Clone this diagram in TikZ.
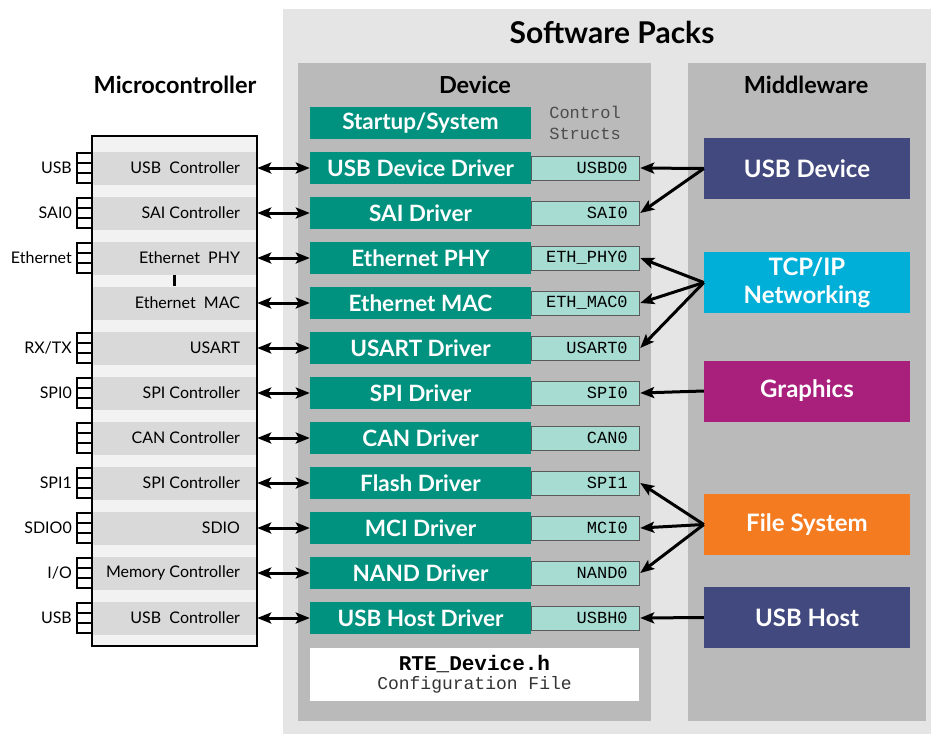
\documentclass[tikz,border=0pt]{standalone}
\usepackage{fontspec}
\setmainfont{Lato}
\setmonofont{Liberation Mono}
\usetikzlibrary{arrows.meta,positioning}

\definecolor{packgray}{HTML}{E5E5E5}
\definecolor{panelgray}{HTML}{BABABA}
\definecolor{chipfill}{HTML}{F2F2F2}
\definecolor{rowgray}{HTML}{D9D9D9}
\definecolor{drvteal}{HTML}{00917F}
\definecolor{csfill}{HTML}{A6DCD2}
\definecolor{csline}{HTML}{5A5A5A}
\definecolor{usbblue}{HTML}{41497E}
\definecolor{tcpcyan}{HTML}{00AFD8}
\definecolor{gfxpurple}{HTML}{A8207C}
\definecolor{fsorange}{HTML}{F47B20}

\newcommand{\rl}[1]{\makebox[131pt][r]{#1}}
\newcommand{\cl}[1]{\makebox[84pt][r]{#1}}

\begin{document}
\begin{tikzpicture}[x=1pt,y=-1pt,>={Stealth[length=14pt,width=11pt,inset=3pt]},
    every edge/.style={draw,line width=3pt},
    row/.style={fill=rowgray,minimum width=165pt,minimum height=33pt,inner sep=0pt,font=\fontsize{16}{18}\selectfont},
    drv/.style={fill=drvteal,text=white,minimum width=221pt,minimum height=32pt,inner sep=0pt,font=\fontsize{22.5}{24}\bfseries},
    cs/.style={fill=csfill,draw=csline,line width=1pt,minimum width=108pt,minimum height=24pt,inner sep=0pt,font=\fontsize{17}{18}\ttfamily},
    mw/.style={text=white,minimum width=206pt,minimum height=61pt,inner sep=0pt,align=center,font=\fontsize{24}{28}\bfseries},
    title/.style={font=\fontsize{23.5}{26}\bfseries},
    pin/.style={font=\fontsize{16}{18}\selectfont,anchor=east,inner sep=0pt}]

    \useasboundingbox (0,0) rectangle (931,734);
    \fill[white] (0,0) rectangle (931,734);

    % software packs background
    \fill[packgray] (283,9) rectangle (931,734);
    \fill[panelgray] (298,63) rectangle (651,721);
    \fill[panelgray] (688,63) rectangle (926,721);

    \node[title] (t0) at (612,32) {\fontsize{30}{32}\selectfont Software Packs};
    \node[title] (t1) at (175,85) {Microcontroller};
    \node[title] (t2) at (475,85) {Device};
    \node[title] (t3) at (806,85) {Middleware};

    % microcontroller
    \node[fill=chipfill,minimum width=165pt,minimum height=510pt,inner sep=0pt] (mcu) at (174.5,391) {};

    \node[row] (r1) at (174.5,168) {\rl{USB\ \ Controller}};
    \node[row] (r2) at (174.5,213) {\rl{SAI Controller}};
    \node[row] (r3) at (174.5,258) {\rl{Ethernet\ \ PHY}};
    \node[row] (r4) at (174.5,303) {\rl{Ethernet\ \ MAC}};
    \node[row] (r5) at (174.5,348) {\rl{USART}};
    \node[row] (r6) at (174.5,393) {\rl{SPI Controller}};
    \node[row] (r7) at (174.5,438) {\rl{CAN Controller}};
    \node[row] (r8) at (174.5,483) {\rl{SPI Controller}};
    \node[row] (r9) at (174.5,528) {\rl{SDIO}};
    \node[row] (r10) at (174.5,573) {\rl{Memory Controller}};
    \node[row] (r11) at (174.5,618) {\rl{USB\ \ Controller}};

    \draw[line width=2pt] (mcu.north west) rectangle (mcu.south east);
    \draw[line width=3pt] (r3.south) -- (r4.north);

    \foreach \y in {168,213,258,348,393,438,483,528,573,618}
        \draw[line width=1.5pt] (77,\y-15) rectangle (92,\y-5) (77,\y-5) rectangle (92,\y+5) (77,\y+5) rectangle (92,\y+15);

    \node[pin] (p1) at (72,168) {USB};
    \node[pin] (p2) at (72,213) {SAI0};
    \node[pin] (p3) at (72,258) {Ethernet};
    \node[pin] (p5) at (72,348) {RX/TX};
    \node[pin] (p6) at (72,393) {SPI0};
    \node[pin] (p8) at (72,483) {SPI1};
    \node[pin] (p9) at (72,528) {SDIO0};
    \node[pin] (p10) at (72,573) {I/O};
    \node[pin] (p11) at (72,618) {USB};

    % device drivers and control structs
    \node[drv] (d0) at (420.5,123) {Startup/System};
    \node[drv] (d1) at (420.5,168) {USB Device Driver};
    \node[drv] (d2) at (420.5,213) {SAI Driver};
    \node[drv] (d3) at (420.5,258) {Ethernet PHY};
    \node[drv] (d4) at (420.5,303) {Ethernet MAC};
    \node[drv] (d5) at (420.5,348) {USART Driver};
    \node[drv] (d6) at (420.5,393) {SPI Driver};
    \node[drv] (d7) at (420.5,438) {CAN Driver};
    \node[drv] (d8) at (420.5,483) {Flash Driver};
    \node[drv] (d9) at (420.5,528) {MCI Driver};
    \node[drv] (d10) at (420.5,573) {NAND Driver};
    \node[drv] (d11) at (420.5,618) {USB Host Driver};

    \node[font=\fontsize{17}{21}\ttfamily,text=black!70,align=left] (cs0) at (585,123) {Control\\Structs};
    \node[cs] (c1) [right=0pt of d1] {\cl{USBD0}};
    \node[cs] (c2) [right=0pt of d2] {\cl{SAI0}};
    \node[cs] (c3) [right=0pt of d3] {\cl{ETH\_PHY0}};
    \node[cs] (c4) [right=0pt of d4] {\cl{ETH\_MAC0}};
    \node[cs] (c5) [right=0pt of d5] {\cl{USART0}};
    \node[cs] (c6) [right=0pt of d6] {\cl{SPI0}};
    \node[cs] (c7) [right=0pt of d7] {\cl{CAN0}};
    \node[cs] (c8) [right=0pt of d8] {\cl{SPI1}};
    \node[cs] (c9) [right=0pt of d9] {\cl{MCI0}};
    \node[cs] (c10) [right=0pt of d10] {\cl{NAND0}};
    \node[cs] (c11) [right=0pt of d11] {\cl{USBH0}};

    \node[fill=white,minimum width=329pt,minimum height=53pt,inner sep=0pt,align=center] (rte) at (474.5,674.5)
        {{\fontsize{21}{23}\ttfamily\bfseries RTE\_Device.h}\\[3pt]{\fontsize{18}{22}\ttfamily\color{black!80}Configuration File}};

    % middleware
    \node[mw,fill=usbblue] (m1) at (807,168.5) {USB Device};
    \node[mw,fill=tcpcyan] (m2) at (807,282.5) {TCP/IP\\Networking};
    \node[mw,fill=gfxpurple] (m3) at (807,391) {Graphics};
    \node[mw,fill=fsorange] (m4) at (807,524.5) {File System};
    \node[mw,fill=usbblue] (m5) at (807,617.5) {USB Host};

    \path[<->]
        (r1.east) edge (d1.west)
        (r2.east) edge (d2.west)
        (r3.east) edge (d3.west)
        (r4.east) edge (d4.west)
        (r5.east) edge (d5.west)
        (r6.east) edge (d6.west)
        (r7.east) edge (d7.west)
        (r8.east) edge (d8.west)
        (r9.east) edge (d9.west)
        (r10.east) edge (d10.west)
        (r11.east) edge (d11.west)
    ;

    \path[->]
        (m1.west) edge (c1.east)
        (m1.west) edge (c2.east)
        (m2.west) edge (c3.east)
        (m2.west) edge (c4.east)
        (m2.west) edge (c5.east)
        (m3.west) edge (c6.east)
        (m4.west) edge (c8.east)
        (m4.west) edge (c9.east)
        (m4.west) edge (c10.east)
        (m5.west) edge (c11.east)
    ;
\end{tikzpicture}
\end{document}
